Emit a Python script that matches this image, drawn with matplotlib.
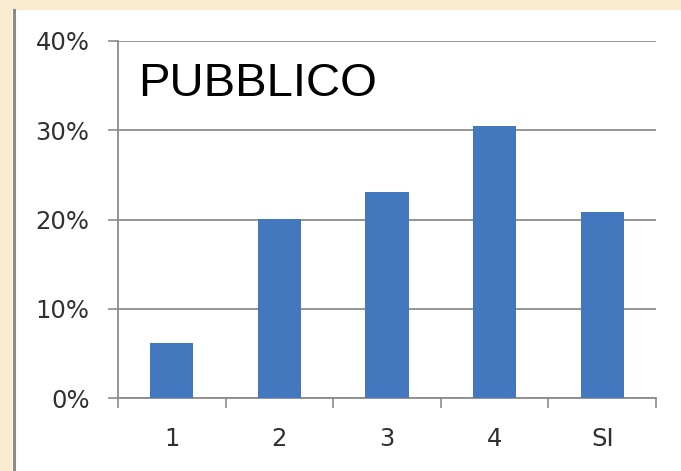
import matplotlib
matplotlib.use("Agg")
import matplotlib.pyplot as plt
from matplotlib.patches import Rectangle
from matplotlib.lines import Line2D
from matplotlib.ticker import FixedLocator, NullFormatter

categories = ["1", "2", "3", "4", "SI"]
values = [6.2, 20.1, 23.1, 30.5, 20.8]
yticks = [0, 10, 20, 30, 40]
ytick_labels = ["0%", "10%", "20%", "30%", "40%"]
title = "PUBBLICO"

W, H = 681, 471
fig = plt.figure(figsize=(W / 100, H / 100), dpi=100, facecolor="white")

# beige frame on top and left, with gray edge line
beige = "#F9EBD0"
fig.patches.append(Rectangle((0, 1 - 10 / H), 1, 10 / H, transform=fig.transFigure,
                             facecolor=beige, edgecolor="none", zorder=0))
fig.patches.append(Rectangle((0, 0), 12 / W, 1, transform=fig.transFigure,
                             facecolor=beige, edgecolor="none", zorder=0))
fig.lines.append(Line2D([13.5 / W, 13.5 / W], [0, 1 - 10 / H], transform=fig.transFigure,
                        color="#8a8a8a", lw=2.2))

left, right = 118 / W, 656 / W
bottom, top = (H - 398) / H, (H - 41) / H
ax = fig.add_axes([left, bottom, right - left, top - bottom])
ax.set_facecolor("none")

x = list(range(len(categories)))
ax.bar(x, values, width=0.4, color="#4377BE", zorder=3)

ax.set_xlim(-0.5, len(categories) - 0.5)
ax.set_ylim(0, 40)

gray = "#8c8c8c"
for s in ["top", "right"]:
    ax.spines[s].set_visible(False)
for s in ["left", "bottom"]:
    ax.spines[s].set_color(gray)
    ax.spines[s].set_linewidth(1.3)

ax.set_yticks(yticks)
ax.set_yticklabels(ytick_labels)
ax.yaxis.grid(True, color=gray, lw=1.3, zorder=1)
ax.tick_params(axis="y", length=7.5, width=1.2, color=gray, pad=13,
               labelsize=17.5, labelcolor="#303030")

# x: ticks at category boundaries, labels at centers
ax.xaxis.set_major_locator(FixedLocator([i - 0.5 for i in range(len(categories) + 1)]))
ax.xaxis.set_major_formatter(NullFormatter())
ax.xaxis.set_minor_locator(FixedLocator(x))
ax.set_xticklabels(categories, minor=True)
ax.tick_params(axis="x", which="major", length=7, width=1.2, color=gray)
ax.tick_params(axis="x", which="minor", length=0, pad=21, labelsize=17.5, labelcolor="#303030")

ax.text(20 / 538, (398 - 96) / 357, title, transform=ax.transAxes, family="Liberation Sans",
        fontsize=34, color="black", va="baseline", ha="left")

fig.savefig("out.png", dpi=100, facecolor="white")
